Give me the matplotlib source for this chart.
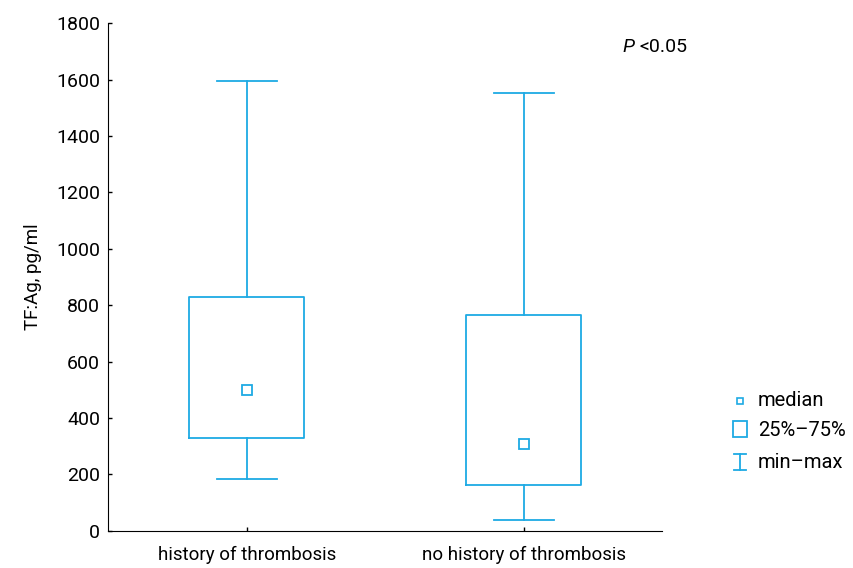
import matplotlib
matplotlib.use("Agg")
import matplotlib.pyplot as plt
from matplotlib.lines import Line2D
from matplotlib.patches import Rectangle

plt.rcParams['font.family'] = ['Roboto', 'DejaVu Sans']

# data
groups = ["history of thrombosis", "no history of thrombosis"]
minimum = [183, 37]
q1 = [330, 162]
median = [500, 308]
q3 = [830, 766]
maximum = [1595, 1554]

blue = "#1eaae4"

fig = plt.figure(figsize=(8.54, 5.68), dpi=100)
ax = fig.add_axes([0.1268, 0.0657, 0.6487, 0.8933])

stats = []
for i in range(len(groups)):
    stats.append({"whislo": minimum[i], "q1": q1[i], "med": median[i],
                  "q3": q3[i], "whishi": maximum[i], "fliers": []})

ax.bxp(stats, positions=[1, 2], widths=0.414, capwidths=0.215,
       showfliers=False,
       boxprops=dict(color=blue, linewidth=1.3),
       whiskerprops=dict(color=blue, linewidth=1.3),
       capprops=dict(color=blue, linewidth=1.3),
       medianprops=dict(linewidth=0))
ax.plot([1, 2], median, "s", ms=7.5, mfc="white", mec=blue, mew=1.3, zorder=5)

ax.set_xlim(0.5, 2.5)
ax.set_ylim(0, 1800)
ax.set_yticks(range(0, 1801, 200))
ax.set_xticks([1, 2])
ax.set_xticklabels(groups)
ax.spines["top"].set_visible(False)
ax.spines["right"].set_visible(False)
ax.tick_params(direction="in", length=3, width=1, labelsize=14, pad=6)
ax.tick_params(axis="x", labelsize=13.5, pad=11)
ax.set_ylabel("TF:Ag, pg/ml", fontsize=13.5, labelpad=10)

# P value
ax.text(622 / 854, 1 - 47 / 568, "P", transform=fig.transFigure, fontsize=14,
        style="italic", ha="left", va="center")
ax.text(639 / 854, 1 - 47 / 568, "<0.05", transform=fig.transFigure, fontsize=14,
        ha="left", va="center")

# legend drawn by hand on the right
fig.add_artist(Line2D([740 / 854], [1 - 401 / 568], marker="s", ms=5, mfc="white",
                      mec=blue, mew=1.2, transform=fig.transFigure))
fig.add_artist(Rectangle((733 / 854, 1 - 437 / 568), 14 / 854, 16 / 568, fill=False,
                         ec=blue, lw=1.3, transform=fig.transFigure))
fig.add_artist(Line2D([740 / 854, 740 / 854], [1 - 454 / 568, 1 - 470 / 568],
                      color=blue, lw=1.3, transform=fig.transFigure))
fig.add_artist(Line2D([734 / 854, 746 / 854], [1 - 454 / 568, 1 - 454 / 568],
                      color=blue, lw=1.3, transform=fig.transFigure))
fig.add_artist(Line2D([734 / 854, 746 / 854], [1 - 470 / 568, 1 - 470 / 568],
                      color=blue, lw=1.3, transform=fig.transFigure))
for label, ypix in [("median", 400), ("25%\u201375%", 430), ("min\u2013max", 462)]:
    fig.text(758 / 854, 1 - ypix / 568, label, fontsize=14.5, ha="left", va="center")

fig.savefig("out.png", dpi=100)
